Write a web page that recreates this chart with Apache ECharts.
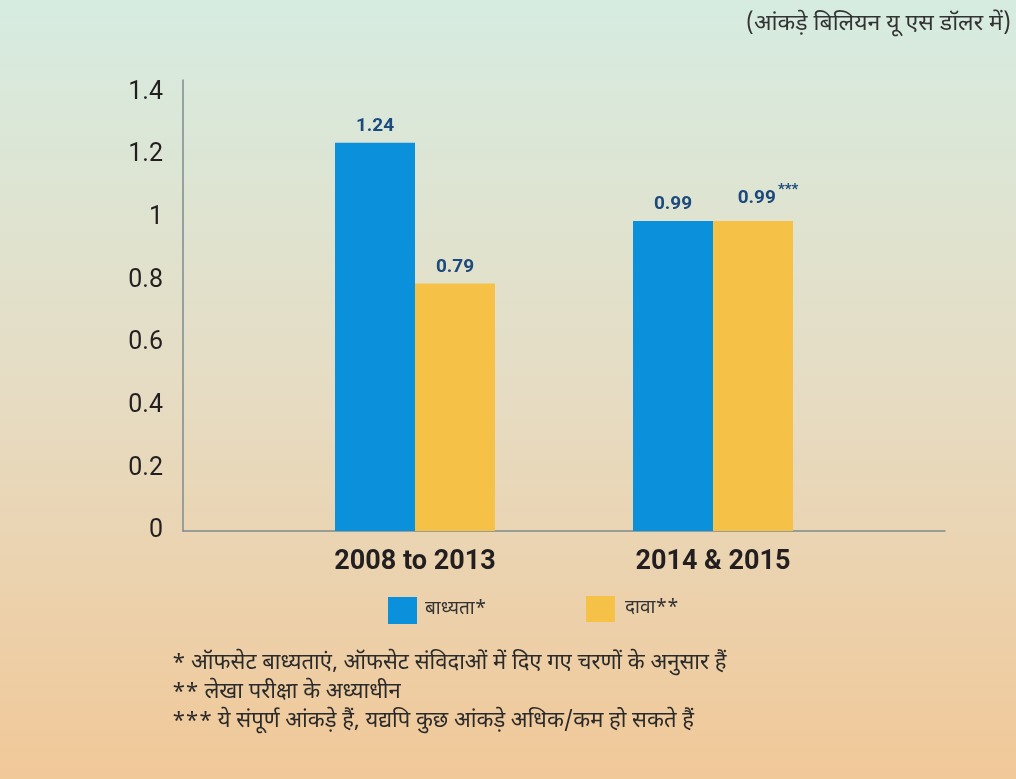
<!DOCTYPE html>
<html>
<head>
<meta charset="utf-8">
<script src="https://cdn.jsdelivr.net/npm/echarts@6/dist/echarts.min.js"></script>
<style>
html,body{margin:0;padding:0;}
#chart{width:1016px;height:779px;}
</style>
</head>
<body>
<div id="chart"></div>
<script>
// ---- data ----
var categories = ['2008 to 2013', '2014 & 2015'];
var seriesNames = ['बाध्यता*', 'दावा**'];
var obligationValues = [1.24, 0.99];
var claimValues = [0.79, 0.99];
var claimMarks = ['', '***'];
var yTicks = [0, 0.2, 0.4, 0.6, 0.8, 1, 1.2, 1.4];
var unitNote = '(आंकड़े बिलियन यू एस डॉलर में)';
var footnotes = [
  '* ऑफसेट बाध्यताएं, ऑफसेट संविदाओं में दिए गए चरणों के अनुसार हैं',
  '** लेखा परीक्षा के अध्याधीन',
  '*** ये संपूर्ण आंकड़े हैं, यद्यपि कुछ आंकड़े अधिक/कम हो सकते हैं'
];

var hiFont = '"Noto Sans Devanagari", "Noto Sans", "Lohit Devanagari", sans-serif';
var labelColor = '#1c4a7c';

var claimData = claimValues.map(function (v, i) {
  var item = { value: v };
  if (claimMarks[i]) {
    item.label = {
      formatter: '{v|' + v.toFixed(2) + '}{s|' + claimMarks[i] + '}',
      offset: [15, 0]
    };
  }
  return item;
});

var chart = echarts.init(document.getElementById('chart'));
chart.setOption({
  backgroundColor: {
    type: 'linear', x: 0, y: 0, x2: 0, y2: 1,
    colorStops: [
      { offset: 0, color: '#d6ece1' },
      { offset: 0.5, color: '#e6dcc3' },
      { offset: 1, color: '#f1c898' }
    ]
  },
  animation: false,
  grid: [
    { left: 183, right: 71, top: 80, bottom: 248 },
    { left: 266, right: 154, top: 80, bottom: 248 }
  ],
  xAxis: [
    {
      gridIndex: 0, type: 'category', data: categories,
      axisLine: { lineStyle: { color: '#7d8b90', width: 1.5 } },
      axisTick: { show: false }, axisLabel: { show: false }
    },
    {
      gridIndex: 1, type: 'category', data: categories,
      axisLine: { show: false }, axisTick: { show: false },
      axisLabel: { color: '#231f20', fontSize: 27, fontWeight: 'bold', fontFamily: 'Roboto, sans-serif', margin: 18 }
    }
  ],
  yAxis: [
    {
      gridIndex: 0, type: 'value', min: 0, max: 1.44, interval: 0.2,
      axisLine: { show: true, lineStyle: { color: '#7d8b90', width: 1.5 } },
      axisTick: { show: false }, splitLine: { show: false },
      axisLabel: {
        color: '#231f20', fontSize: 25, fontFamily: 'Roboto, sans-serif', margin: 20,
        showMaxLabel: false,
        formatter: function (v) {
          for (var i = 0; i < yTicks.length; i++) {
            if (Math.abs(yTicks[i] - v) < 1e-6) return String(yTicks[i]);
          }
          return '';
        }
      }
    },
    {
      gridIndex: 1, type: 'value', min: 0, max: 1.44, interval: 0.2, show: false
    }
  ],
  legend: [
    {
      data: [seriesNames[0]], left: 388, top: 597, itemWidth: 29, itemHeight: 27,
      icon: 'rect', itemGap: 8, padding: 0,
      textStyle: { color: '#333', fontSize: 19, fontFamily: hiFont, padding: [4, 0, 0, 3] }
    },
    {
      data: [seriesNames[1]], left: 586, top: 596, itemWidth: 29, itemHeight: 26,
      icon: 'rect', itemGap: 8, padding: 0,
      textStyle: { color: '#333', fontSize: 19, fontFamily: hiFont, padding: [4, 0, 0, 5] }
    }
  ],
  series: [
    {
      name: seriesNames[0], type: 'bar', xAxisIndex: 1, yAxisIndex: 1,
      data: obligationValues, barWidth: 80, barGap: '0%',
      itemStyle: { color: '#0b90dc' },
      label: {
        show: true, position: 'top', distance: 7,
        color: labelColor, fontSize: 19, fontWeight: 'bold', fontFamily: 'Roboto, sans-serif',
        formatter: function (p) { return p.value.toFixed(2); }
      }
    },
    {
      name: seriesNames[1], type: 'bar', xAxisIndex: 1, yAxisIndex: 1,
      data: claimData, barWidth: 80, barGap: '0%',
      itemStyle: { color: '#f5c146' },
      label: {
        show: true, position: 'top', distance: 7,
        color: labelColor, fontSize: 19, fontWeight: 'bold', fontFamily: 'Roboto, sans-serif',
        formatter: function (p) { return p.value.toFixed(2); },
        rich: {
          v: { color: labelColor, fontSize: 19, fontWeight: 'bold', fontFamily: 'Roboto, sans-serif' },
          s: { color: labelColor, fontSize: 15, fontWeight: 'bold', verticalAlign: 'top', padding: [0, 0, 16, 2], fontFamily: 'Roboto, sans-serif' }
        }
      }
    }
  ],
  graphic: [
    {
      type: 'text', right: 5, top: 14,
      style: { text: unitNote, fill: '#333', fontSize: 23, fontFamily: hiFont }
    },
    {
      type: 'group', left: 172, top: 654,
      children: footnotes.map(function (t, i) {
        return {
          type: 'text', x: 0, y: i * 29,
          style: { text: t, fill: '#2a2a2a', fontSize: 22, fontFamily: hiFont }
        };
      })
    }
  ]
});
</script>
</body>
</html>
